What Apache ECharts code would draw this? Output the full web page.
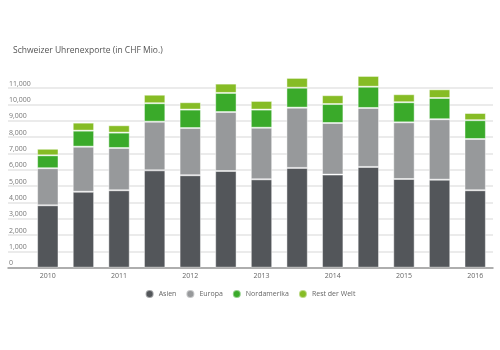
<!DOCTYPE html>
<html>
<head>
<meta charset="utf-8">
<script src="https://cdn.jsdelivr.net/npm/echarts@6/dist/echarts.min.js"></script>
<style>
  html, body { margin: 0; padding: 0; background: #fff; }
  #main { width: 500px; height: 350px; }
</style>
</head>
<body>
<div id="main"></div>
<script>
// Halbjahre 2010 H1 .. 2016 H1
var halbjahre = ['2010 H1', '2010 H2', '2011 H1', '2011 H2', '2012 H1', '2012 H2', '2013 H1',
                 '2013 H2', '2014 H1', '2014 H2', '2015 H1', '2015 H2', '2016 H1'];
var asien       = [3820, 4650, 4740, 5960, 5660, 5920, 5410, 6110, 5700, 6170, 5430, 5390, 4740];
var europa      = [2270, 2760, 2590, 2980, 2890, 3610, 3160, 3690, 3160, 3610, 3470, 3700, 3140];
var nordamerika = [790, 980, 940, 1130, 1130, 1170, 1110, 1220, 1160, 1300, 1230, 1300, 1150];
var restDerWelt = [400, 490, 450, 520, 450, 570, 530, 600, 540, 660, 490, 530, 440];

var font = '"Open Sans", sans-serif';
var farben = ['#53565a', '#97999b', '#3aaa2a', '#86bc25'];

var myChart = echarts.init(document.getElementById('main'));

function serie(name, data) {
    return {
        name: name,
        type: 'bar',
        stack: 'total',
        xAxisIndex: 1,
        yAxisIndex: 1,
        barWidth: '60%',
        itemStyle: { borderColor: 'rgba(255,255,255,0.45)', borderWidth: 1 },
        data: data
    };
}

var option = {
    color: farben,
    textStyle: { fontFamily: font },
    title: {
        text: 'Schweizer Uhrenexporte (in CHF Mio.)',
        left: 8,
        top: 41,
        textStyle: { fontSize: 8.5, fontWeight: 'normal', color: '#555', fontFamily: font }
    },
    legend: {
        bottom: 46,
        left: 'center',
        icon: 'circle',
        itemWidth: 8,
        itemHeight: 8,
        itemGap: 9,
        textStyle: { fontSize: 7, color: '#666', fontFamily: font },
        data: ['Asien', 'Europa', 'Nordamerika', 'Rest der Welt']
    },
    grid: [
        // Gitterlinien über die ganze Breite
        { left: 8, right: 7, top: 71.7, bottom: 82.3 },
        // Balken
        { left: 30, right: 7, top: 71.7, bottom: 82.3 }
    ],
    xAxis: [
        {
            type: 'value', gridIndex: 0, min: 0, max: 1,
            axisLine: { show: true, lineStyle: { color: '#9a9a9a', width: 1.5 } },
            axisTick: { show: false }, axisLabel: { show: false }, splitLine: { show: false }
        },
        {
            type: 'category', gridIndex: 1, data: halbjahre,
            axisLine: { show: false }, axisTick: { show: false },
            axisLabel: {
                interval: 1, margin: 5, fontSize: 7, color: '#666',
                formatter: function (v) { return v.split(' ')[0]; }
            }
        }
    ],
    yAxis: [
        {
            type: 'value', gridIndex: 0, min: 0, max: 12000, interval: 1000,
            axisLine: { show: false }, axisTick: { show: false },
            axisLabel: {
                inside: true, verticalAlign: 'bottom', margin: 1, padding: [0, 0, 1, 0],
                fontSize: 7, color: '#777', showMaxLabel: false,
                formatter: function (v) { return v.toLocaleString('en-US'); }
            },
            splitLine: { show: true, showMaxLine: false, lineStyle: { color: '#e4e4e4', width: 1.5 } }
        },
        {
            type: 'value', gridIndex: 1, min: 0, max: 12000, interval: 1000,
            show: false, splitLine: { show: false }
        }
    ],
    series: [
        serie('Asien', asien),
        serie('Europa', europa),
        serie('Nordamerika', nordamerika),
        serie('Rest der Welt', restDerWelt)
    ]
};

myChart.setOption(option);
</script>
</body>
</html>
